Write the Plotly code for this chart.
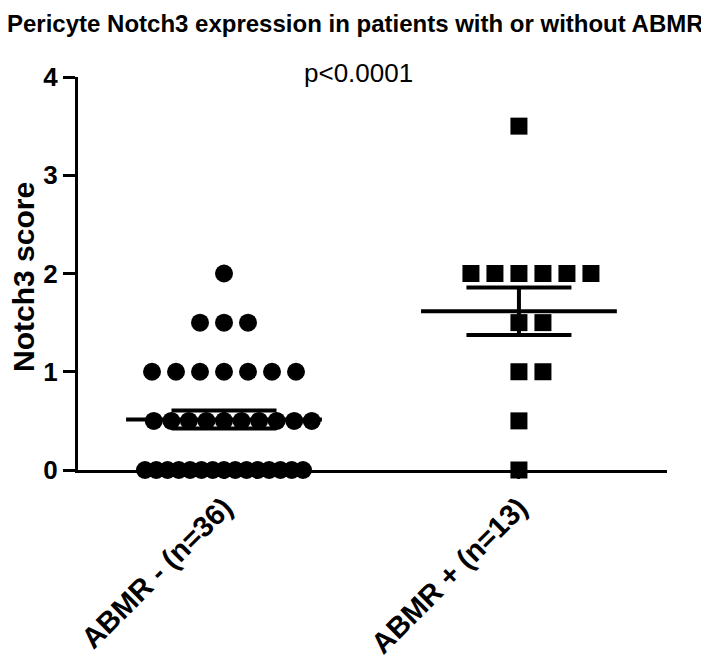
import numpy as np
import plotly.graph_objects as go

# ---- data ----
categories = ["ABMR - (n=36)", "ABMR + (n=13)"]
abmr_neg = [2.0,
            1.5, 1.5, 1.5,
            1.0, 1.0, 1.0, 1.0, 1.0, 1.0, 1.0,
            0.5, 0.5, 0.5, 0.5, 0.5, 0.5, 0.5, 0.5, 0.5, 0.5,
            0.0, 0.0, 0.0, 0.0, 0.0, 0.0, 0.0, 0.0, 0.0, 0.0, 0.0, 0.0, 0.0, 0.0, 0.0]
abmr_pos = [3.5,
            2.0, 2.0, 2.0, 2.0, 2.0, 2.0,
            1.5, 1.5,
            1.0, 1.0,
            0.5,
            0.0]
y_ticks = [0, 1, 2, 3, 4]
p_text = "p<0.0001"
title_text = "Pericyte Notch3 expression in patients with or without ABMR"
y_title = "Notch3 score"

# ---- layout geometry (page pixels; the page body adds an 8px offset) ----
W, H = 709, 666
OFF = 8
plot_left, plot_right, plot_top, plot_bottom = 78, 667, 77, 470
L = plot_left - OFF
T = plot_top - OFF
R = W + OFF - plot_right
B = H + OFF - plot_bottom
plot_w = plot_right - plot_left
plot_h = plot_bottom - plot_top
x_range = [-0.495, 1.502]
px_per_unit = plot_w / (x_range[1] - x_range[0])
FONT = "Liberation Sans, Arial, sans-serif"


def swarm_offsets(values, step_px=24.0, max_span_px=158.0):
    """Horizontal offsets (data units) for identical values, GraphPad-like."""
    values = np.asarray(values)
    offs = np.zeros(len(values))
    for v in np.unique(values):
        idx = np.where(values == v)[0]
        n = len(idx)
        step = step_px if n < 2 else min(step_px, max_span_px / (n - 1))
        order = [0]
        k = 1
        while len(order) < n:
            order.append(k)
            if len(order) < n:
                order.append(-k)
            k += 1
        offs[idx] = np.array(order[:n]) * step / px_per_unit
    return offs


fig = go.Figure()

groups = [(abmr_neg, "circle", 18), (abmr_pos, "square", 17)]
for gi, (vals, sym, size) in enumerate(groups):
    vals = np.asarray(vals, dtype=float)
    xs = gi + swarm_offsets(vals)
    fig.add_trace(go.Scatter(
        x=xs, y=vals, mode="markers", cliponaxis=False,
        marker=dict(symbol=sym, size=size, color="black", line=dict(width=0)),
        showlegend=False, hoverinfo="skip"))

    mean = vals.mean()
    sem = vals.std(ddof=1) / np.sqrt(len(vals))
    mean_hw = 0.332
    cap_hw = 0.178
    fig.add_trace(go.Scatter(
        x=[gi - mean_hw, gi + mean_hw], y=[mean, mean], mode="lines",
        line=dict(color="black", width=4), showlegend=False, hoverinfo="skip"))
    for yy in (mean - sem, mean + sem):
        fig.add_trace(go.Scatter(
            x=[gi - cap_hw, gi + cap_hw], y=[yy, yy], mode="lines",
            line=dict(color="black", width=4), showlegend=False, hoverinfo="skip"))
    fig.add_trace(go.Scatter(
        x=[gi, gi], y=[mean - sem, mean + sem], mode="lines",
        line=dict(color="black", width=4), showlegend=False, hoverinfo="skip"))


def px_to_paper(px, py):
    return (px - plot_left) / plot_w, (plot_bottom - py) / plot_h


annots = []
tx, ty = px_to_paper(355, 23)
annots.append(dict(text=title_text, x=tx, y=ty, xref="paper", yref="paper",
                   showarrow=False, xanchor="center", yanchor="middle",
                   font=dict(family=FONT, size=24, color="black", weight="bold")))
px_, py_ = px_to_paper(358, 73)
annots.append(dict(text=p_text, x=px_, y=py_, xref="paper", yref="paper",
                   showarrow=False, xanchor="center", yanchor="middle",
                   font=dict(family=FONT, size=26, color="black")))
yx, yy = px_to_paper(23, 277)
annots.append(dict(text=y_title, x=yx, y=yy, xref="paper", yref="paper",
                   showarrow=False, xanchor="center", yanchor="middle", textangle=-90,
                   font=dict(family=FONT, size=30, color="black", weight="bold")))

fig.update_layout(
    width=W, height=H,
    margin=dict(l=L, r=R, t=T, b=B, pad=0),
    paper_bgcolor="white", plot_bgcolor="white",
    annotations=annots,
    xaxis=dict(range=x_range, tickvals=[0, 1], ticktext=categories,
               tickangle=-45, ticks="outside", ticklen=6, tickwidth=3,
               tickcolor="black", showline=True, linecolor="black", linewidth=3,
               showgrid=False, zeroline=False,
               tickfont=dict(family=FONT, size=29, color="black", weight="bold")),
    yaxis=dict(range=[0, 4], tickvals=y_ticks, ticks="outside", ticklen=12,
               tickwidth=3, tickcolor="black", showline=True, linecolor="black",
               linewidth=3, showgrid=False, zeroline=False,
               tickfont=dict(family=FONT, size=26, color="black", weight="bold")),
)

fig.write_html("out.html")
